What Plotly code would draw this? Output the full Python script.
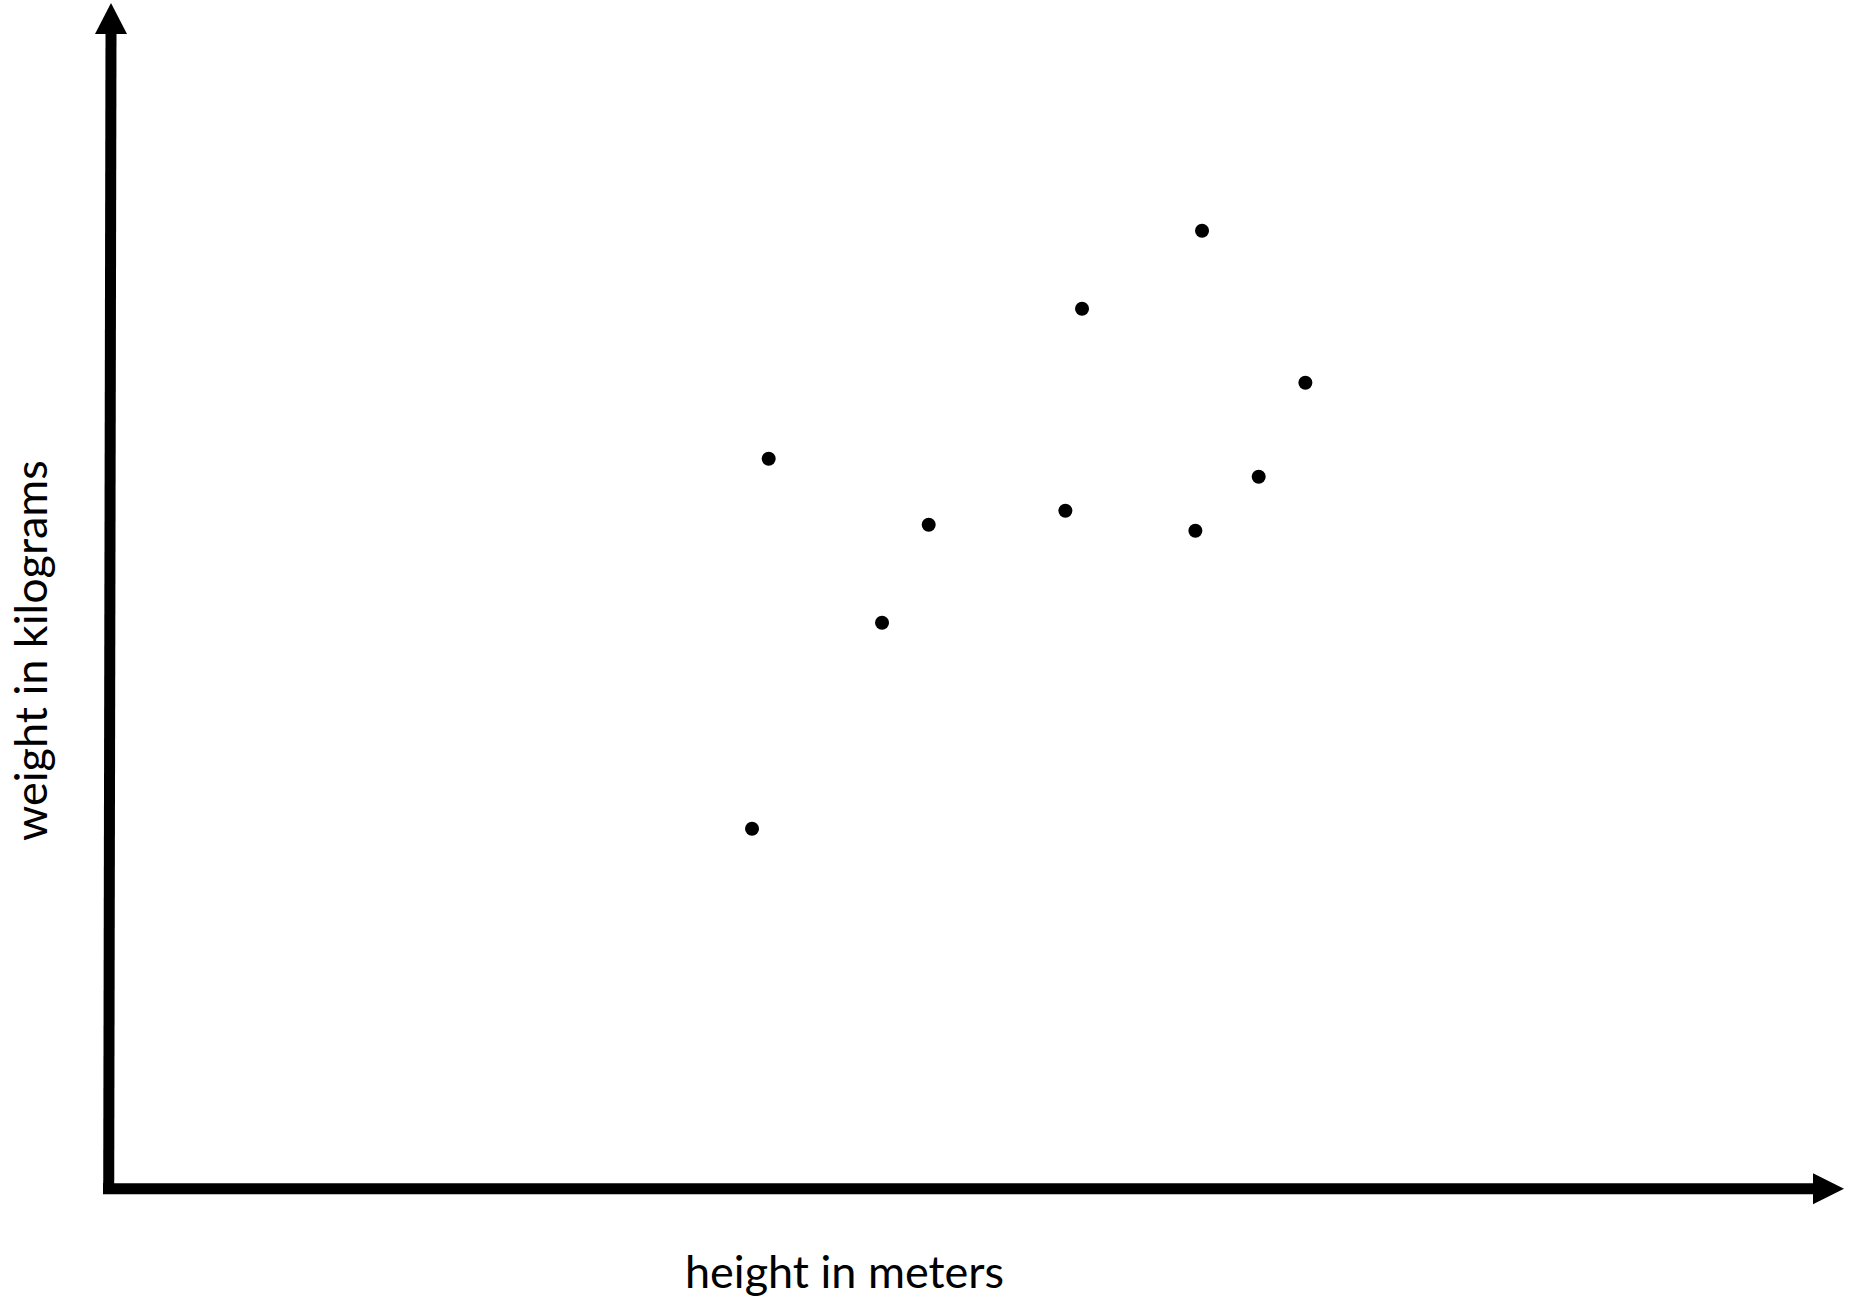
import plotly.graph_objects as go

W, H = 1865, 1297

# height (m) and weight (kg) of the sampled people
heights = [1.593, 1.598, 1.632, 1.646, 1.687, 1.692, 1.726, 1.728, 1.745, 1.759]
weights = [58.0, 76.5, 68.3, 73.2, 73.9, 84.0, 72.9, 87.9, 75.6, 80.3]

x_label = "height in meters"
y_label = "weight in kilograms"


def px(x):
    return x / W


def py(y):
    return 1 - y / H


fig = go.Figure()

fig.add_trace(go.Scatter(
    x=heights, y=weights,
    mode="markers",
    marker=dict(size=14, color="black", line=dict(width=0)),
    hoverinfo="x+y",
))

axis_line = dict(color="black", width=11)
shapes = [
    # y axis (slightly tilted like the hand drawn original)
    dict(type="line", xref="paper", yref="paper",
         x0=px(108.7), y0=py(1194), x1=px(111), y1=py(33), line=axis_line),
    # x axis
    dict(type="line", xref="paper", yref="paper",
         x0=px(103), y0=py(1188.7), x1=px(1815), y1=py(1188.7), line=axis_line),
    # arrow heads
    dict(type="path", xref="paper", yref="paper",
         path=f"M {px(111)} {py(3)} L {px(95)} {py(34)} L {px(127)} {py(34)} Z",
         fillcolor="black", line=dict(width=0)),
    dict(type="path", xref="paper", yref="paper",
         path=f"M {px(1844)} {py(1188.8)} L {px(1813)} {py(1173.3)} L {px(1813)} {py(1204.3)} Z",
         fillcolor="black", line=dict(width=0)),
]

label_font = dict(family="Lato", size=45, color="black")
annotations = [
    dict(text=x_label, xref="paper", yref="paper", x=px(844), y=py(1271),
         showarrow=False, xanchor="center", yanchor="middle", font=label_font),
    dict(text=y_label, xref="paper", yref="paper", x=px(30), y=py(651),
         showarrow=False, xanchor="center", yanchor="middle", textangle=-90,
         font=label_font),
]

# 1 px = 0.0003 m horizontally, 0.05 kg vertically; origin at (1.40 m, 40 kg)
fig.update_layout(
    width=W, height=H,
    margin=dict(l=0, r=0, t=0, b=0),
    paper_bgcolor="white", plot_bgcolor="white",
    showlegend=False,
    xaxis=dict(range=[1.40 - 108.7 * 0.0003, 1.40 + (W - 108.7) * 0.0003],
               visible=False, fixedrange=True),
    yaxis=dict(range=[40 - (H - 1188.7) * 0.05, 40 + 1188.7 * 0.05],
               visible=False, fixedrange=True),
    shapes=shapes,
    annotations=annotations,
)

# drop the default page margin so the figure sits at the window's corner
fig.write_html(
    "out.html",
    config={"displayModeBar": False},
    post_script="document.body.style.margin='0';document.body.style.overflow='hidden';",
)
